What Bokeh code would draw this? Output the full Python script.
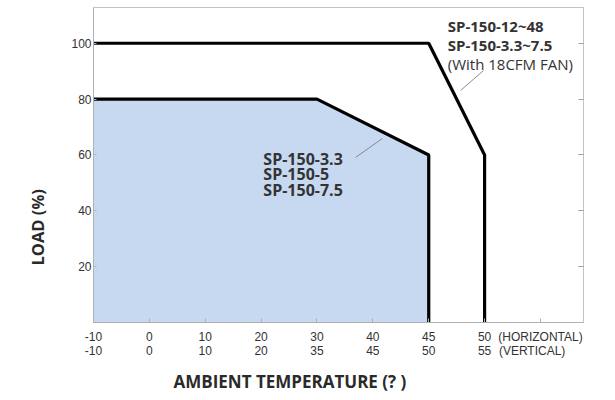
import math
from bokeh.plotting import figure
from bokeh.models import Range1d, FixedTicker, LinearAxis, Label, Title
from bokeh.embed import file_html
from bokeh.resources import INLINE

# ---- data ----
temp_horizontal = [-10, 0, 10, 20, 30, 40, 45, 50]
temp_vertical = [-10, 0, 10, 20, 35, 45, 50, 55]
load_ticks = [20, 40, 60, 80, 100]

# derating curve without fan (SP-150-3.3 / 5 / 7.5), in horizontal temperature
curve_a_temp = [-10, 30, 45, 45]
curve_a_load = [80, 80, 60, 0]
# derating curve SP-150-12~48 and SP-150-3.3~7.5 with 18CFM fan
curve_b_temp = [-10, 45, 50, 50]
curve_b_load = [100, 100, 60, 0]

label_a = ["SP-150-3.3", "SP-150-5", "SP-150-7.5"]
label_b = ["SP-150-12~48", "SP-150-3.3~7.5", "(With 18CFM FAN)"]
orient_labels = ["(HORIZONTAL)", "(VERTICAL)"]

x_title = "AMBIENT TEMPERATURE (?  )"
y_title = "LOAD (%)"

# ---- helpers ----
def idx(t):
    return float(temp_horizontal.index(t))

FONT = "Open Sans"
TICKFONT = "Liberation Sans"
TXT = "#333333"

p = figure(width=615, height=400, output_backend="svg", toolbar_location=None,
           x_range=Range1d(0, 8.77), y_range=Range1d(0, 112.8),
           min_border_left=93, min_border_right=32, min_border_top=7,
           min_border_bottom=78)
p.grid.visible = False
p.outline_line_color = "#c4c4c4"
p.outline_line_width = 1
p.background_fill_color = "white"

ax_x = [idx(t) for t in curve_a_temp]
p.patch(ax_x + [0.0], curve_a_load + [0], fill_color="#c6d9f0", line_color=None)
p.line(ax_x, curve_a_load, line_color="black", line_width=3.2)
bx_x = [idx(t) for t in curve_b_temp]
p.line(bx_x, curve_b_load, line_color="black", line_width=3.2)

# leader lines
leader_b_x = [6.98, 6.57]
leader_b_y = [90.2, 83.1]
leader_a_x = [5.17, 4.69]
leader_a_y = [65.9, 59.1]
p.line(leader_b_x, leader_b_y, line_color="#8a8a8a", line_width=1)
p.line(leader_a_x, leader_a_y, line_color="#8a8a8a", line_width=1)

# x axis (last tick carries the orientation note, left-aligned by padding)
NB = "\u00a0"
w0 = len(orient_labels[0])
w1 = len(orient_labels[1])
orient_text = orient_labels[0] + "\n" + orient_labels[1] + NB * int(round((w0 - w1) * 2.6))
xa = p.xaxis[0]
xa.ticker = FixedTicker(ticks=list(range(len(temp_horizontal) + 1)))
xa.major_label_overrides = {i: f"{h}\n{v}" for i, (h, v) in enumerate(zip(temp_horizontal, temp_vertical))}
xa.major_label_overrides[len(temp_horizontal)] = orient_text
xa.major_label_text_font = TICKFONT
xa.major_label_text_font_size = "12px"
xa.major_label_text_color = TXT
xa.major_label_text_line_height = 1.05
xa.major_label_standoff = 7
xa.major_tick_in = 4
xa.major_tick_out = 0
xa.minor_tick_line_color = None
xa.axis_line_color = "#b0b0b0"
xa.major_tick_line_color = "#b0b0b0"

# y axis
ya = p.yaxis[0]
ya.ticker = FixedTicker(ticks=load_ticks)
ya.major_label_text_font = TICKFONT
ya.major_label_text_font_size = "12px"
ya.major_label_text_color = TXT
ya.major_label_standoff = 2
ya.major_tick_in = 3
ya.major_tick_out = 0
ya.minor_tick_line_color = None
ya.axis_line_color = "#b0b0b0"
ya.major_tick_line_color = "#b0b0b0"

# right axis with ticks only
ra = LinearAxis(ticker=FixedTicker(ticks=load_ticks))
ra.major_label_text_font_size = "1px"
ra.major_label_text_color = None
ra.major_label_standoff = 0
ra.major_tick_in = 5
ra.major_tick_out = 0
ra.minor_tick_line_color = None
ra.axis_line_color = "#c4c4c4"
ra.major_tick_line_color = "#a0a0a0"
p.add_layout(ra, "right")

# curve labels
for i, t in enumerate(label_b):
    p.add_layout(Label(x=6.34, y=106.3 - i * 6.9, text=t, text_font=FONT,
                       text_font_size="15px", text_color=TXT,
                       text_font_style="bold" if i < 2 else "normal",
                       text_baseline="middle", text_align="left"))
for i, t in enumerate(label_a):
    p.add_layout(Label(x=3.04, y=58.7 - i * 5.7, text=t, text_font=FONT,
                       text_font_size="16px", text_color=TXT, text_font_style="bold",
                       text_baseline="middle", text_align="left"))

# axis titles
p.add_layout(Title(text=x_title, text_font=FONT, text_font_size="17px",
                   text_font_style="bold", text_color="#2a2a2a",
                   align="left", offset=80, standoff=13), "below")
p.add_layout(Title(text=y_title, text_font=FONT, text_font_size="16.5px",
                   text_font_style="bold", text_color="#2a2a2a",
                   align="left", offset=57, standoff=40), "left")

open("out.html", "w").write(file_html(p, INLINE))
